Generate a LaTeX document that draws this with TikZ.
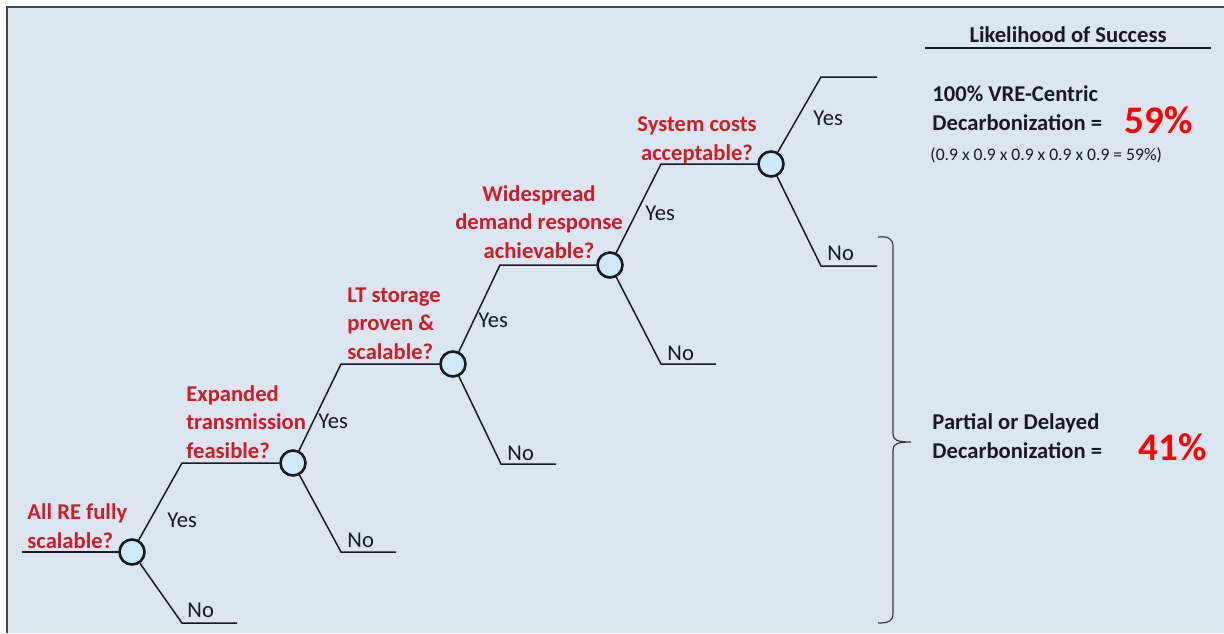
\documentclass[tikz,border=0pt]{standalone}
\usepackage{fontspec}
\setmainfont{Carlito}

\definecolor{panel}{RGB}{220,230,241}
\definecolor{qred}{RGB}{208,28,38}
\definecolor{bigred}{RGB}{255,0,0}
\definecolor{bubble}{RGB}{205,233,250}
\definecolor{ink}{RGB}{25,25,35}

\begin{document}
\begin{tikzpicture}[x=0.5pt,y=-0.5pt]

                \tikzset{chance/.style = {shape=circle,draw=ink,line width=1.3pt,fill=bubble,minimum size=12.5pt,inner sep=0pt}}
                \tikzset{branch/.style = {draw=ink,line width=0.75pt}}
                \tikzset{question/.style = {text=qred,font=\fontsize{11.3}{14.25}\selectfont\bfseries,inner sep=0pt}}
                \tikzset{answer/.style = {text=ink,font=\fontsize{11.3}{14.25}\selectfont,inner sep=0pt,anchor=base west}}
                \tikzset{outcome/.style = {text=ink,font=\fontsize{11.3}{14.25}\selectfont\bfseries,inner sep=0pt,align=left,anchor=base west}}
                \tikzset{odds/.style = {text=bigred,font=\fontsize{19.5}{22}\selectfont\bfseries,inner sep=0pt,anchor=base east}}

                \useasboundingbox (0,0) rectangle (1224,633);
                \fill[white] (0,0) rectangle (1224,633);
                \fill[panel] (7,7) rectangle (1224,633);
                \draw[gray!55!black,line width=1.1pt] (7,633) -- (7,7) -- (1224,7);

                % decision points
                \node[chance] (c1) at (132,552) {};
                \node[chance] (c2) at (293,463) {};
                \node[chance] (c3) at (453,364) {};
                \node[chance] (c4) at (610,265) {};
                \node[chance] (c5) at (771,164) {};

                \coordinate (start) at (22,552);
                \coordinate (y1) at (182,463);
                \coordinate (y2) at (341,364);
                \coordinate (y3) at (500,265);
                \coordinate (y4) at (661,164);
                \coordinate (y5) at (821,77);
                \coordinate (y5end) at (877,77);
                \coordinate (n1) at (182,623);
                \coordinate (n1end) at (237,623);
                \coordinate (n2) at (341,552);
                \coordinate (n2end) at (396,552);
                \coordinate (n3) at (501,464);
                \coordinate (n3end) at (556,464);
                \coordinate (n4) at (661,364);
                \coordinate (n4end) at (716,364);
                \coordinate (n5) at (821,266);
                \coordinate (n5end) at (877,266);

                \draw[branch] (start) -- (c1);

                \draw[branch] (c1) -- (y1) -- (c2);
                \draw[branch] (c1) -- (n1) -- (n1end);

                \draw[branch] (c2) -- (y2) -- (c3);
                \draw[branch] (c2) -- (n2) -- (n2end);

                \draw[branch] (c3) -- (y3) -- (c4);
                \draw[branch] (c3) -- (n3) -- (n3end);

                \draw[branch] (c4) -- (y4) -- (c5);
                \draw[branch] (c4) -- (n4) -- (n4end);

                \draw[branch] (c5) -- (y5) -- (y5end);
                \draw[branch] (c5) -- (n5) -- (n5end);

                % questions (base = last line)
                \node[question,align=left,anchor=base west] (q1) at (27,548) {All RE fully\\scalable?};
                \node[question,align=left,anchor=base west] (q2) at (186,458) {Expanded\\transmission\\feasible?};
                \node[question,align=left,anchor=base west] (q3) at (347,359) {LT storage\\proven \&\\scalable?};
                \node[question,align=center,anchor=base] (q4) at (539,258) {Widespread\\demand response\\achievable?};
                \node[question,align=center,anchor=base] (q5) at (697,160) {System costs\\acceptable?};

                % answers
                \node[answer] (yes1) at (167,527) {Yes};
                \node[answer] (yes2) at (318,428) {Yes};
                \node[answer] (yes3) at (478,327) {Yes};
                \node[answer] (yes4) at (645,220) {Yes};
                \node[answer] (yes5) at (813,125) {Yes};
                \node[answer] (no1) at (187,617) {No};
                \node[answer] (no2) at (347,547) {No};
                \node[answer] (no3) at (507,460) {No};
                \node[answer] (no4) at (667,360) {No};
                \node[answer] (no5) at (827,260) {No};

                % likelihoods
                \node[outcome,anchor=base] (head) at (1068,42) {Likelihood of Success};
                \draw[ink,line width=0.7pt] (925,48) -- (1211,48);

                \node[outcome] (full) at (932,130) {100\% VRE-Centric\\Decarbonization =};
                \node[odds] (fullodds) at (1193,133) {59\%};
                \node[answer,font=\fontsize{8.8}{10}\selectfont] (calc) at (930,160) {(0.9 x 0.9 x 0.9 x 0.9 x 0.9 = 59\%)};

                \node[outcome] (part) at (932,458) {Partial or Delayed\\Decarbonization =};
                \node[odds] (partodds) at (1207,460) {41\%};

                \draw[gray!45!black,line width=0.6pt] (878,237) .. controls (889,236) and (893,239) .. (893,247)
                    -- (893,434) .. controls (893,440) and (897,442) .. (911,442)
                    .. controls (897,442) and (893,444) .. (893,450)
                    -- (893,613) .. controls (893,621) and (889,623) .. (878,623);
            \end{tikzpicture}
\end{document}
